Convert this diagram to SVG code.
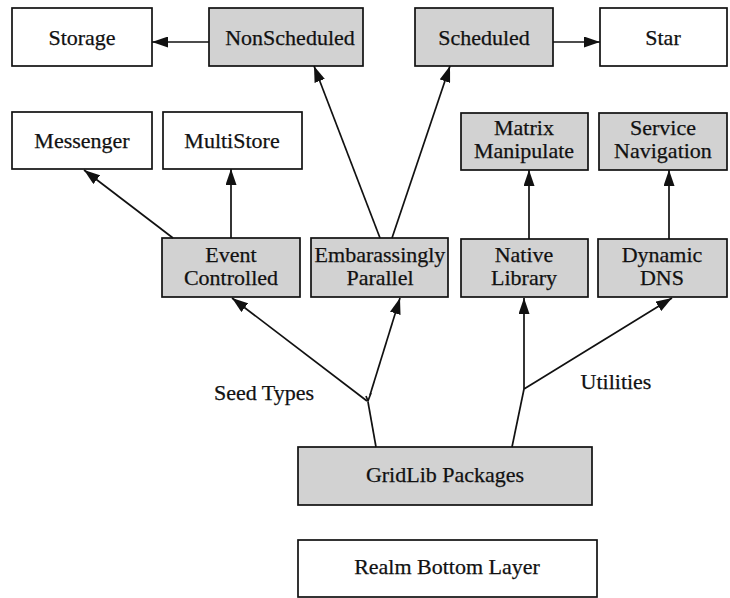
<svg xmlns="http://www.w3.org/2000/svg" width="730" height="598" viewBox="0 0 730 598">
  <defs>
    <marker id="arrow" viewBox="0 0 16 11" refX="16" refY="5.5" markerWidth="16" markerHeight="11" markerUnits="userSpaceOnUse" orient="auto">
      <path d="M0,0 L16,5.5 L0,11 Z" fill="#111"/>
    </marker>
  </defs>
  <style>
    .box { fill: #ffffff; stroke: #111; stroke-width: 1.7; }
    .pkg { fill: #d2d2d2; stroke: #111; stroke-width: 1.7; }
    text { font-family: "Liberation Serif", "Times New Roman", serif; font-size: 22px; fill: #111; stroke: #111; stroke-width: 0.25; text-anchor: middle; }
    .edge { fill: none; stroke: #111; stroke-width: 1.7; }
    .arr { marker-end: url(#arrow); }
  </style>
  <rect width="730" height="598" fill="#ffffff"/>

  <!-- top row -->
  <g id="storage"><rect class="box" x="12" y="8" width="140" height="58"/><text x="82" y="45">Storage</text></g>
  <g id="nonscheduled"><rect class="pkg" x="209" y="8" width="154" height="58"/><text x="290" y="45">NonScheduled</text></g>
  <g id="scheduled"><rect class="pkg" x="415" y="8" width="138" height="58"/><text x="484" y="45">Scheduled</text></g>
  <g id="star"><rect class="box" x="600" y="8" width="127" height="58"/><text x="663" y="45">Star</text></g>

  <!-- second row -->
  <g id="messenger"><rect class="box" x="12" y="112" width="140" height="57"/><text x="82" y="148">Messenger</text></g>
  <g id="multistore"><rect class="box" x="163" y="112" width="139" height="57"/><text x="232" y="148">MultiStore</text></g>
  <g id="matrix"><rect class="pkg" x="461" y="113" width="127" height="57"/><text x="524" y="135">Matrix</text><text x="524" y="158">Manipulate</text></g>
  <g id="service"><rect class="pkg" x="599" y="113" width="128" height="57"/><text x="663" y="135">Service</text><text x="663" y="158">Navigation</text></g>

  <!-- third row -->
  <g id="event"><rect class="pkg" x="162" y="238" width="138" height="59"/><text x="231" y="262">Event</text><text x="231" y="285">Controlled</text></g>
  <g id="parallel"><rect class="pkg" x="311" y="238" width="137" height="59"/><text x="380" y="262">Embarassingly</text><text x="380" y="285">Parallel</text></g>
  <g id="native"><rect class="pkg" x="461" y="239" width="127" height="58"/><text x="524" y="262">Native</text><text x="524" y="285">Library</text></g>
  <g id="dns"><rect class="pkg" x="598" y="239" width="129" height="58"/><text x="662" y="262">Dynamic</text><text x="662" y="285">DNS</text></g>

  <!-- bottom -->
  <g id="gridlib"><rect class="pkg" x="298" y="447" width="294" height="58"/><text x="445" y="482">GridLib Packages</text></g>
  <g id="realm"><rect class="box" x="298" y="540" width="299" height="57"/><text x="447" y="574">Realm Bottom Layer</text></g>

  <!-- edge labels -->
  <g id="labels">
    <text x="264" y="400">Seed Types</text>
    <text x="616" y="389">Utilities</text>
  </g>

  <g id="connectors">
    <line class="edge arr" x1="209" y1="42" x2="152" y2="42"/>
    <line class="edge arr" x1="553" y1="42" x2="600" y2="42"/>
    <line class="edge arr" x1="173" y1="238" x2="84" y2="170"/>
    <line class="edge arr" x1="231" y1="238" x2="231" y2="169"/>
    <line class="edge arr" x1="380" y1="238" x2="314" y2="66"/>
    <line class="edge arr" x1="392" y1="238" x2="450" y2="66"/>
    <line class="edge arr" x1="529" y1="239" x2="529" y2="170"/>
    <line class="edge arr" x1="669" y1="239" x2="669" y2="170"/>
    <!-- seed types fork -->
    <polyline class="edge" points="376,447 368,402"/>
    <line class="edge arr" x1="367" y1="401" x2="232" y2="298"/>
    <polyline class="edge" points="366,396 368,401 371,393"/>
    <line class="edge arr" x1="370" y1="395" x2="400" y2="298"/>
    <!-- utilities fork -->
    <polyline class="edge" points="512,447 524,389"/>
    <line class="edge arr" x1="524" y1="389" x2="524" y2="298"/>
    <line class="edge arr" x1="524" y1="389" x2="672" y2="298"/>
  </g>
</svg>
